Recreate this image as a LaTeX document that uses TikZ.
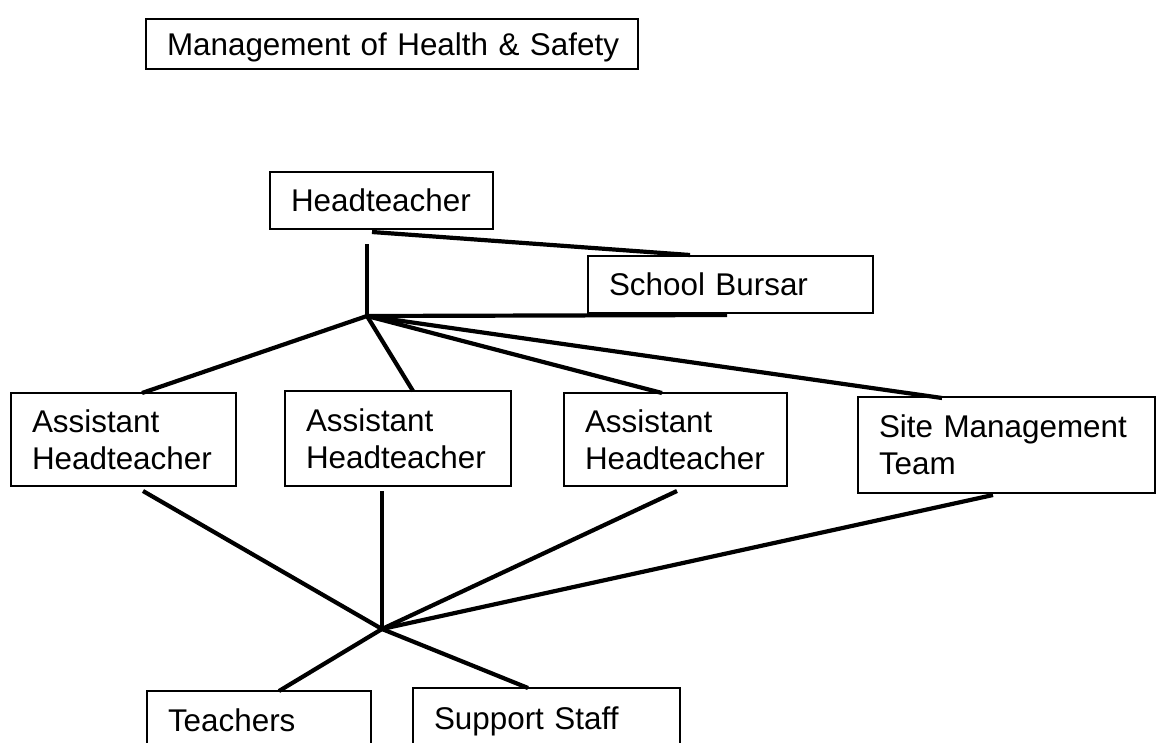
\documentclass[tikz,border=0pt]{standalone}
\usepackage{fontspec}
\setmainfont{Liberation Sans}
\begin{document}
\begin{tikzpicture}[x=1pt,y=-1pt,
  box/.style={draw, line width=1.7pt, fill=white, inner xsep=21pt, inner ysep=0pt, outer sep=0pt,
    anchor=north west, align=left, font=\fontsize{31.4}{37}\selectfont},
  link/.style={line width=4.2pt}]
\useasboundingbox (0,0) rectangle (1162,742);
\fill[white] (0,0) rectangle (1162,742);
\clip (0,0) rectangle (1162,742);

% nodes
\node[box, text depth=0pt, minimum width=492pt, text width=450pt, minimum height=50pt] (title) at (146,19) {\mbox{Management of Health \& Safety}};
\node[box, minimum width=223pt, text width=181pt, minimum height=57pt] (ht) at (270,172) {Headteacher};
\node[box, minimum width=285pt, text width=243pt, minimum height=57pt] (sb) at (588,256) {\mbox{School Bursar}};
\node[box, minimum width=225pt, text width=183pt, minimum height=93pt] (ah1) at (11,393) {Assistant\\Headteacher};
\node[box, minimum width=226pt, text width=184pt, minimum height=95pt] (ah2) at (285,391) {Assistant\\Headteacher};
\node[box, minimum width=223pt, text width=181pt, minimum height=93pt] (ah3) at (564,393) {Assistant\\Headteacher};
\node[box, minimum width=297pt, text width=255pt, minimum height=96pt] (smt) at (858,397) {\mbox{Site Management}\\Team};
\node[box, minimum width=224pt, text width=182pt, minimum height=58pt] (te) at (147,691) {Teachers};
\node[box, text depth=0pt, minimum width=267pt, text width=225pt, minimum height=61pt] (ss) at (413,688) {\mbox{Support Staff}};

\coordinate (hub1) at (367,316);
\coordinate (hub2) at (382,629);

% upper connectors
\draw[link] ([xshift=97pt,yshift=-15pt]ht.south west) -- (hub1);
\draw[link] ([xshift=102pt,yshift=-3pt]ht.south west) -- ([xshift=102pt,yshift=1pt]sb.north west);
\draw[link] (hub1) -- ([xshift=139pt,yshift=-2pt]sb.south west);
\draw[link] (hub1) -- ([xshift=131pt]ah1.north west);
\draw[link] (hub1) -- ([xshift=128pt]ah2.north west);
\draw[link] (hub1) -- ([xshift=98pt]ah3.north west);
\draw[link] (hub1) -- ([xshift=84pt,yshift=-1pt]smt.north west);

% lower connectors
\draw[link] ([xshift=132pt,yshift=-5pt]ah1.south west) -- (hub2);
\draw[link] ([xshift=97pt,yshift=-5pt]ah2.south west) -- (hub2);
\draw[link] ([xshift=113pt,yshift=-5pt]ah3.south west) -- (hub2);
\draw[link] ([xshift=135pt,yshift=-2pt]smt.south west) -- (hub2);
\draw[link] (hub2) -- ([xshift=132pt]te.north west);
\draw[link] (hub2) -- ([xshift=115pt]ss.north west);
\end{tikzpicture}
\end{document}
